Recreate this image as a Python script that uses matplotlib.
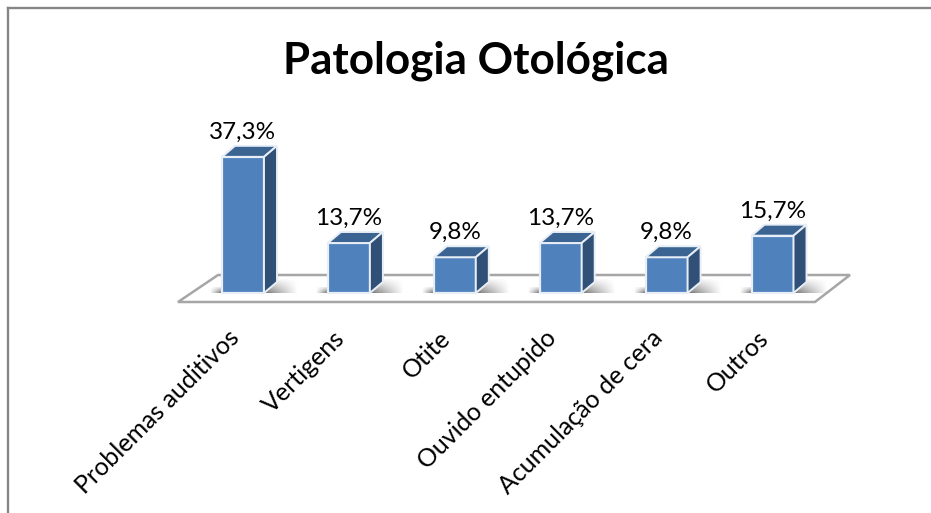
import numpy as np
import matplotlib.pyplot as plt
from matplotlib.patches import Polygon

plt.rcParams['font.family'] = ['Lato', 'DejaVu Sans']

# data
categories = ['Problemas auditivos', 'Vertigens', 'Otite', 'Ouvido entupido', 'Acumulação de cera', 'Outros']
values = [37.3, 13.7, 9.8, 13.7, 9.8, 15.7]
value_labels = ['37,3%', '13,7%', '9,8%', '13,7%', '9,8%', '15,7%']
title = 'Patologia Otológica'

W, H = 931, 513
fig = plt.figure(figsize=(W / 100, H / 100), dpi=100)
ax = fig.add_axes([0, 0, 1, 1])

# scales: bars 105.9 px apart, 3.65 px per percent, baseline at y=293 px
px_x = 105.9
px_y = 3.65
xlim = (-243 / px_x, (W - 243) / px_x)
ylim = (-(H - 293) / px_y, 293 / px_y)
ax.axis('off')


def dx(p):
    return p / px_x


def dy(p):
    return p / px_y


# outer frame
ax.plot([dx(8 - 243), dx(8 - 243)], [ylim[0], dy(293 - 8)], color='#868686', lw=1.7, zorder=1)
ax.plot([dx(8 - 243), dx(W - 243)], [dy(293 - 8), dy(293 - 8)], color='#868686', lw=1.7, zorder=1)

# floor plate
floor = [(dx(178 - 243), dy(-9)), (dx(815 - 243), dy(-9)), (dx(850 - 243), dy(18)), (dx(218 - 243), dy(18))]
ax.add_patch(Polygon(floor, closed=True, fc='white', ec='#a6a6a6', lw=1.8, zorder=2))

w = 42 / px_x
d_x = dx(13)
d_y = dy(11)
xs = np.arange(len(values))

# soft shadow around the foot of each bar
fade = np.linspace(0.55, 0, 48)
right_shadow = np.zeros((16, 48, 4))
right_shadow[..., 3] = fade[None, :] * np.linspace(0.1, 1, 16)[:, None]
left_shadow = np.zeros((8, 24, 4))
left_shadow[..., 3] = fade[::2][::-1][None, :] * np.linspace(0.2, 1, 8)[:, None]
for x in xs:
    ax.imshow(right_shadow, aspect='auto', zorder=3, origin='upper', interpolation='bilinear',
              extent=[x + w / 2, x + w / 2 + dx(34), 0, dy(14)])
    ax.imshow(left_shadow, aspect='auto', zorder=3, origin='upper', interpolation='bilinear',
              extent=[x - w / 2 - dx(12), x - w / 2, 0, dy(6)])
ax.set_xlim(xlim)
ax.set_ylim(ylim)

# bars
ax.bar(xs, values, width=w, color='#4f81bd', edgecolor='#e8eef6', linewidth=1.6, zorder=5)
for x, v in zip(xs, values):
    top = [(x - w / 2, v), (x + w / 2, v), (x + w / 2 + d_x, v + d_y), (x - w / 2 + d_x, v + d_y)]
    side = [(x + w / 2, 0), (x + w / 2 + d_x, d_y), (x + w / 2 + d_x, v + d_y), (x + w / 2, v)]
    ax.add_patch(Polygon(top, closed=True, fc='#3c6493', ec='#e8eef6', lw=1.4, zorder=6))
    ax.add_patch(Polygon(side, closed=True, fc='#305078', ec='#e8eef6', lw=1.4, zorder=6))

# value labels
for x, v, s in zip(xs, values, value_labels):
    ax.text(x, v + dy(14), s, ha='center', va='bottom', fontsize=17.5, color='black', zorder=7)

# category labels, rotated, right end under each bar
for x, c in zip(xs, categories):
    ax.text(x + dx(-16), dy(-33), c, rotation=45, rotation_mode='anchor', ha='right', va='top',
            fontsize=18, color='black', zorder=7)

ax.text(dx(476 - 243), dy(293 - 61), title, ha='center', va='center', fontsize=31.7,
        fontweight='bold', color='black', zorder=7)

fig.savefig('out.png', dpi=100)
